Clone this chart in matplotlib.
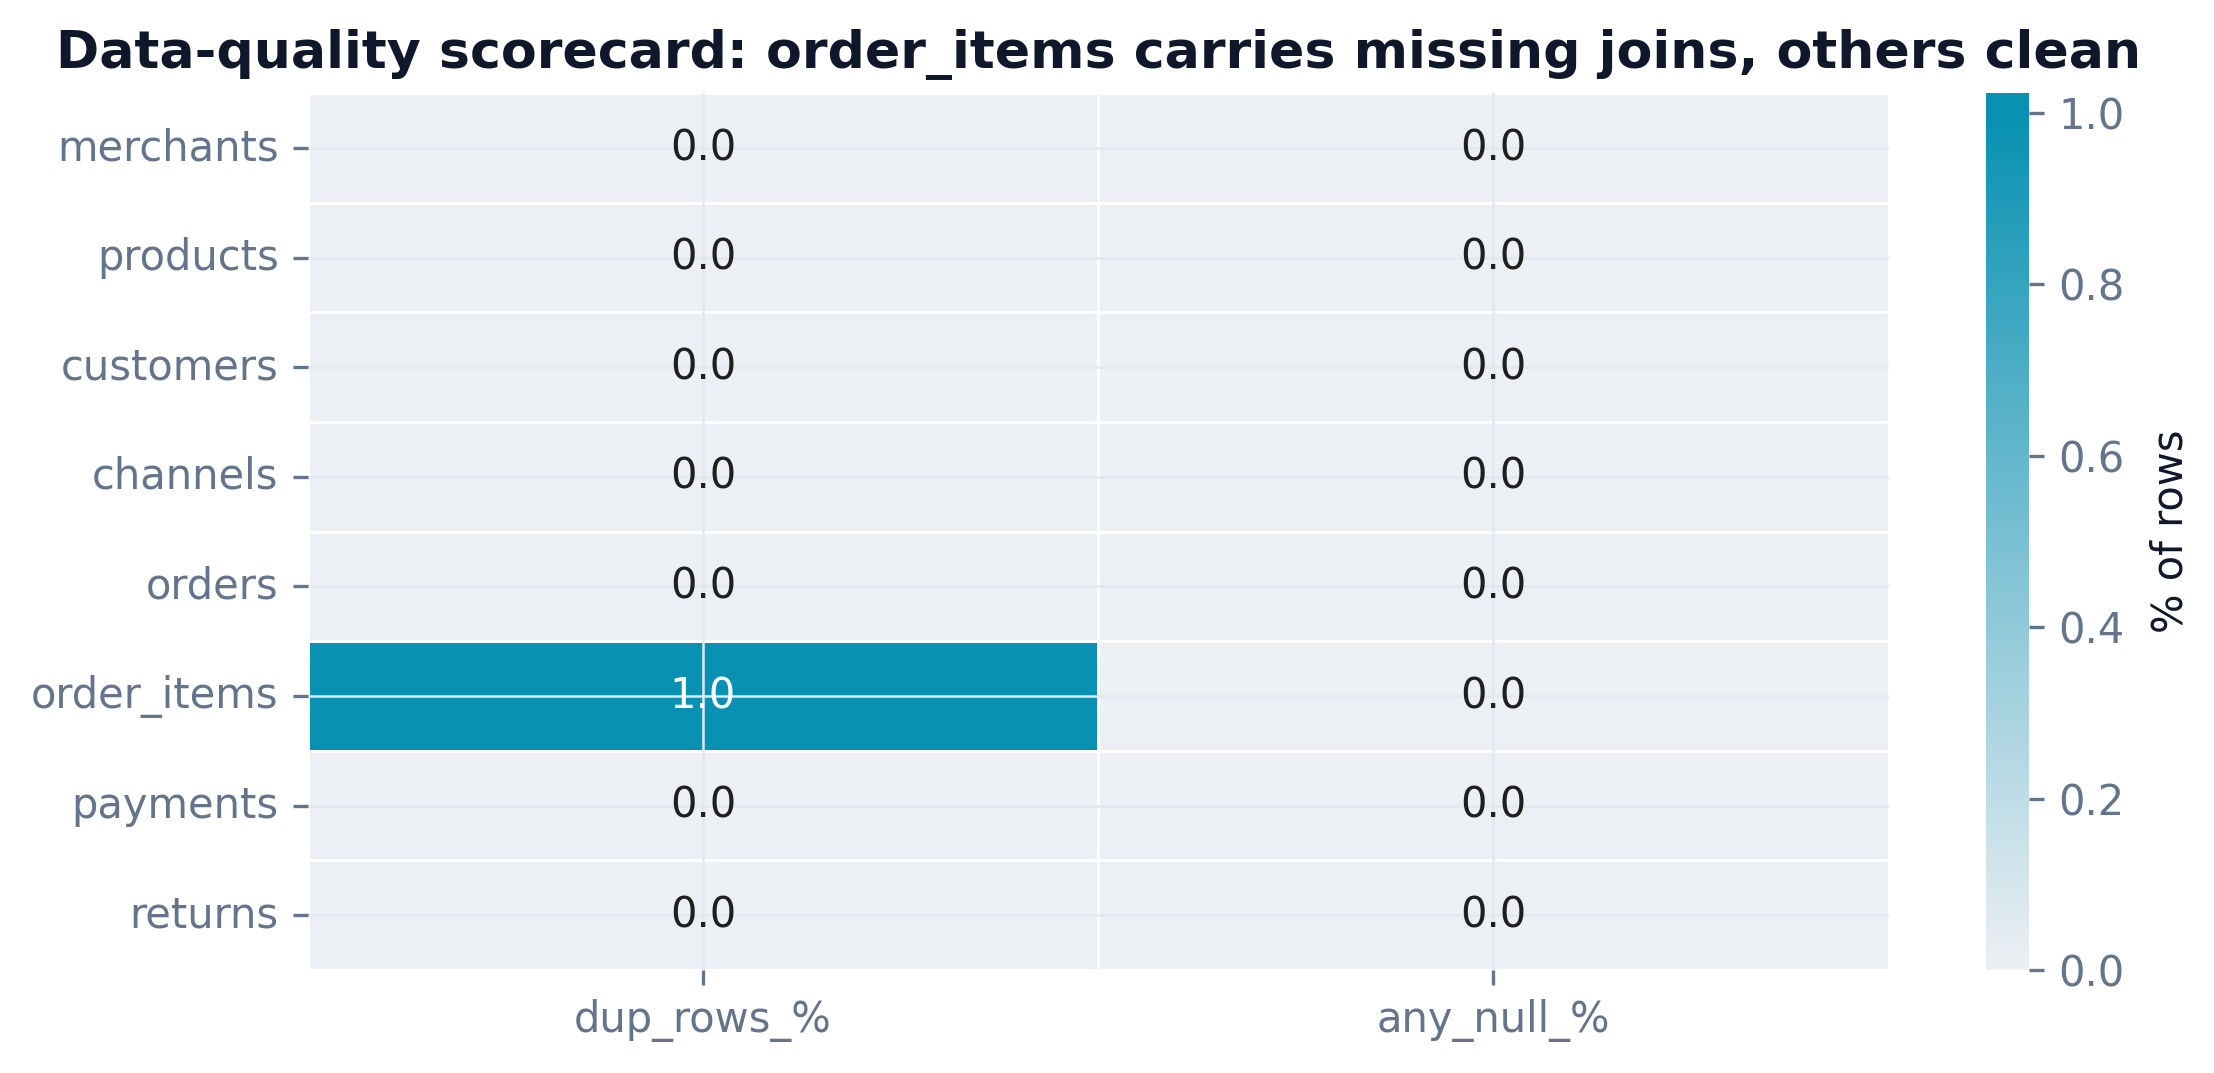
import numpy as np
import pandas as pd
import seaborn as sns
import matplotlib.pyplot as plt
from matplotlib.colors import LinearSegmentedColormap

tables = ["merchants", "products", "customers", "channels", "orders", "order_items", "payments", "returns"]
metrics = ["dup_rows_%", "any_null_%"]
dup_rows = [0.0, 0.0, 0.0, 0.0, 0.0, 1.0, 0.0, 0.0]
any_null = [0.0, 0.0, 0.0, 0.0, 0.0, 0.0, 0.0, 0.0]

df = pd.DataFrame({metrics[0]: dup_rows, metrics[1]: any_null}, index=tables)

# colour scale runs a little past the max so the bar tops out above the 1.0 tick
vmax = 1.023
cmap = LinearSegmentedColormap.from_list(
    "dq", [(0, "#eceff3"), (1 / vmax, "#0891b2"), (1, "#0891b2")])

fig = plt.figure(figsize=(7.38, 3.577), dpi=300)
ax = fig.add_axes([0.139, 0.096, 0.714, 0.817])
cax = fig.add_axes([0.897, 0.096, 0.0195, 0.817])

sns.heatmap(df, ax=ax, cbar_ax=cax, cmap=cmap, vmin=0, vmax=vmax,
            annot=True, fmt=".1f", linewidths=0.6, linecolor="white",
            annot_kws={"fontsize": 10})

for t in ax.texts:
    t.set_color("white" if t.get_text() == "1.0" else "#1f1f1f")

ax.grid(True, color="#e2e8f0", linewidth=0.6)
ax.set_axisbelow(False)
ax.set_xlabel("")
ax.set_ylabel("")
ax.tick_params(axis="both", colors="#64748b", labelsize=10, length=3.5, width=0.8)
ax.tick_params(axis="y", rotation=0)
ax.set_title("Data-quality scorecard: order_items carries missing joins, others clean",
             fontsize=12.5, fontweight="bold", color="#0f172a", pad=6)

cax.tick_params(colors="#64748b", labelsize=10, length=3.5, width=0.8)
cax.set_ylabel("% of rows", fontsize=10, color="#0f172a", labelpad=6)
cax.set_yticks([0.0, 0.2, 0.4, 0.6, 0.8, 1.0])
for s in cax.spines.values():
    s.set_visible(False)

fig.savefig("out.png", dpi=300)
